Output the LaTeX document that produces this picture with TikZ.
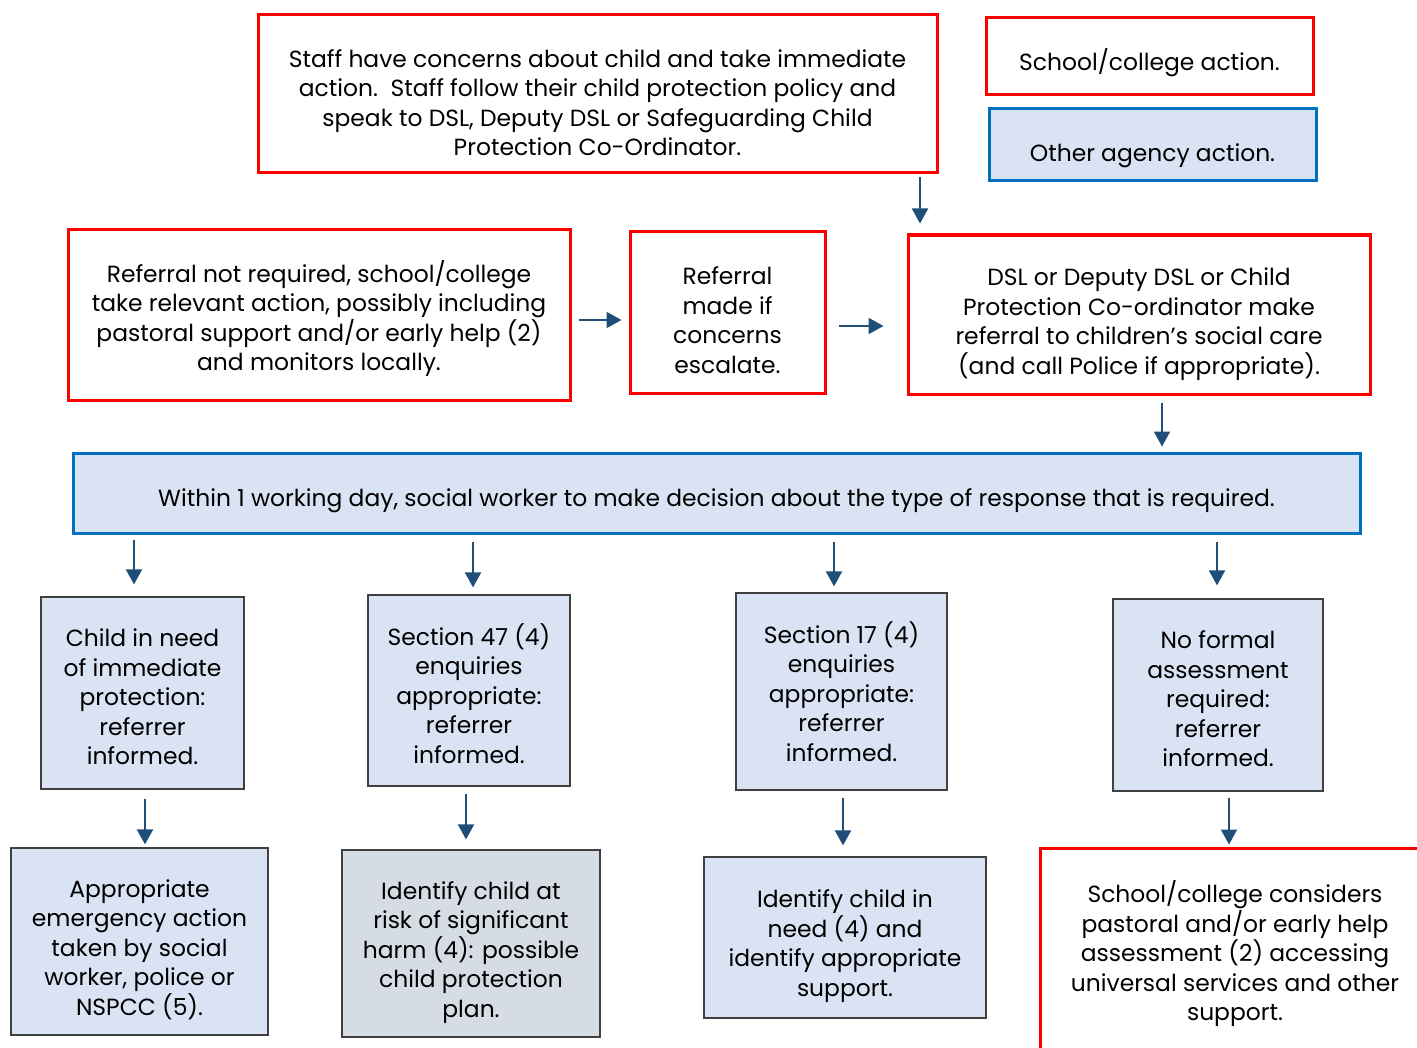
\documentclass[tikz,border=0pt]{standalone}
\usepackage{fontspec}
\setmainfont{Poppins}
\usetikzlibrary{arrows.meta}

\definecolor{agencyblue}{HTML}{0070C0}
\definecolor{paleblue}{HTML}{DAE3F3}
\definecolor{palegray}{HTML}{D6DCE4}
\definecolor{arrowblue}{HTML}{1F4E79}
\definecolor{edgegray}{HTML}{404040}

\tikzset{
  textdrop/.style={execute at begin node={\rule{0pt}{#1}}},
  school/.style={draw=red, line width=1.5pt, fill=white, align=center, inner sep=0pt},
  agency/.style={draw=agencyblue, line width=1.5pt, fill=paleblue, align=center, inner sep=0pt},
  outcome/.style={draw=edgegray, line width=0.6pt, fill=paleblue, align=center, inner sep=0pt},
  flow/.style={draw=arrowblue, line width=1pt, -{Triangle[width=8pt,length=7.5pt]}},
}

\begin{document}
\begin{tikzpicture}[x=0.5pt, y=-0.5pt, font=\fontsize{11.7}{14.75}\selectfont]
  \useasboundingbox (0,0) rectangle (1417,1048);
  % top row
  \node[school, minimum width=339.5pt, minimum height=79pt, textdrop=62pt] (staff) at (597.5,94)
    {Staff have concerns about child and take immediate\\
     action.\ \ Staff follow their child protection policy and\\
     speak to DSL, Deputy DSL or Safeguarding Child\\
     Protection Co-Ordinator.};
  \node[school, minimum width=163.5pt, minimum height=38.5pt, textdrop=17pt] (schoolkey) at (1149.5,56.5)
    {School/college action.};
  \node[agency, minimum width=163.5pt, minimum height=36pt, textdrop=20pt] (agencykey) at (1152.5,145)
    {Other agency action.};
  % second row
  \node[school, minimum width=251pt, minimum height=85pt, textdrop=59pt] (notreq) at (319,315)
    {Referral not required, school/college\\
     take relevant action, possibly including\\
     pastoral support and/or early help (2)\\
     and monitors locally.};
  \node[school, minimum width=97.5pt, minimum height=80.5pt, textdrop=61pt] (escalate) at (727.5,312.5)
    {Referral\\ made if\\ concerns\\ escalate.};
  \node[school, minimum width=231pt, minimum height=79.5pt, textdrop=63pt] (dsl) at (1139,314.5)
    {DSL or Deputy DSL or Child\\
     Protection Co-ordinator make\\
     referral to children’s social care\\
     (and call Police if appropriate).};
  % decision
  \node[agency, minimum width=643.5pt, minimum height=40pt, textdrop=17pt] (decide) at (716.5,493)
    {Within 1 working day, social worker to make decision about the type of response that is required.};
  % responses
  \node[outcome, minimum width=101.5pt, minimum height=96pt, textdrop=72pt] (immediate) at (142.5,693)
    {Child in need\\ of immediate\\ protection:\\ referrer\\ informed.};
  \node[outcome, minimum width=101pt, minimum height=95.5pt, textdrop=73pt] (sec47) at (469,690.5)
    {Section 47 (4)\\ enquiries\\ appropriate:\\ referrer\\ informed.};
  \node[outcome, minimum width=105.5pt, minimum height=98.5pt] (sec17) at (841.5,691.5)
    {Section 17 (4)\\ enquiries\\ appropriate:\\ referrer\\ informed.};
  \node[outcome, minimum width=105pt, minimum height=96pt, textdrop=72pt] (noformal) at (1218,695)
    {No formal\\ assessment\\ required:\\ referrer\\ informed.};
  % outcomes
  \node[outcome, minimum width=128.5pt, minimum height=93.5pt, textdrop=76pt] (emergency) at (139.5,941.5)
    {Appropriate\\ emergency action\\ taken by social\\ worker, police or\\ NSPCC (5).};
  \node[outcome, fill=palegray, minimum width=129pt, minimum height=93.5pt, textdrop=77pt] (harm) at (471,943.5)
    {Identify child at\\ risk of significant\\ harm (4): possible\\ child protection\\ plan.};
  \node[outcome, minimum width=141pt, minimum height=80.5pt, textdrop=62pt] (inneed) at (845,937.5)
    {Identify child in\\ need (4) and\\ identify appropriate\\ support.};
  \node[school, minimum width=195pt, minimum height=106pt] (considers) at (1235,954)
    {School/college considers\\
     pastoral and/or early help\\
     assessment (2) accessing\\
     universal services and other\\
     support.};
  % connectors
  \draw[flow, shorten <=1.5pt, shorten >=5pt] (staff.south -| 920,0) -- (dsl.north -| 920,0);
  \draw[flow, shorten <=3.5pt, shorten >=3.5pt] (notreq.east |- 0,320) -- (escalate.west |- 0,320);
  \draw[flow, shorten <=6pt, shorten >=11.5pt] (escalate.east |- 0,326) -- (dsl.west |- 0,326);
  \draw[flow, shorten <=3.5pt, shorten >=2.5pt] (dsl.south -| 1162,0) -- (decide.north -| 1162,0);
  \draw[flow, shorten <=2.5pt, shorten >=6pt] (decide.south -| 134,0) -- (immediate.north -| 134,0);
  \draw[flow, shorten <=3.5pt, shorten >=3.5pt] (decide.south -| 473,0) -- (sec47.north -| 473,0);
  \draw[flow, shorten <=3.5pt, shorten >=3pt] (decide.south -| 834,0) -- (sec17.north -| 834,0);
  \draw[flow, shorten <=3.5pt, shorten >=6.5pt] (decide.south -| 1217,0) -- (noformal.north -| 1217,0);
  \draw[flow, shorten <=4.5pt, shorten >=1.5pt] (immediate.south -| 145,0) -- (emergency.north -| 145,0);
  \draw[flow, shorten <=3.5pt, shorten >=5pt] (sec47.south -| 466,0) -- (harm.north -| 466,0);
  \draw[flow, shorten <=3.5pt, shorten >=5.5pt] (sec17.south -| 843,0) -- (inneed.north -| 843,0);
  \draw[flow, shorten <=3pt, shorten >=1pt] (noformal.south -| 1229,0) -- (considers.north -| 1229,0);
\end{tikzpicture}
\end{document}
